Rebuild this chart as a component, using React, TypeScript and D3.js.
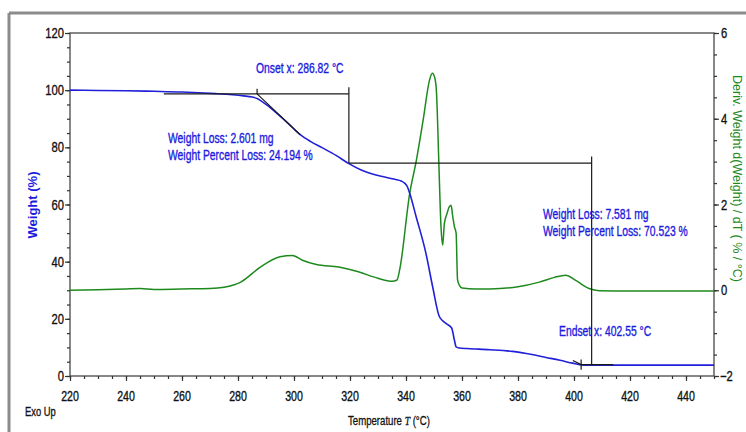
import React, { useEffect, useRef } from "react";
import * as d3 from "d3";

// Thermogravimetric weight curve (% of initial mass)
const tgaTemp = [220, 230, 240, 250, 260, 266, 272, 278, 282, 285, 287, 290, 294, 298, 302, 306, 310, 315, 319.6, 324, 328, 332, 336, 338.3, 339.5, 340.5, 341.3, 343.6, 347.1, 349.5, 351.9, 353, 354.5, 356.3, 357.3, 357.9, 359, 362, 370, 378, 385, 390, 395, 399.5, 402.5, 406, 420, 450];
const tgaWeight = [100, 99.9, 99.8, 99.6, 99.35, 99.1, 98.8, 98.4, 98.0, 97.6, 97.0, 95.0, 91.8, 88.3, 84.6, 82.0, 79.9, 77.2, 74.3, 72.1, 70.7, 69.7, 68.8, 68.2, 67.5, 66.2, 64.0, 55.8, 43.0, 31.3, 20.8, 19.4, 18.2, 16.8, 12.5, 10.2, 9.8, 9.6, 9.2, 8.6, 7.5, 6.5, 5.5, 4.5, 3.9, 3.8, 3.8, 3.8];

// Derivative weight curve (% / °C)
const dtgTemp = [220, 230, 240, 245, 250, 260, 270, 275, 281, 288, 295, 299.5, 303, 308, 316, 323, 330, 335, 336.8, 337.8, 341.3, 343.7, 346.1, 348.4, 349.4, 350.3, 350.9, 351.7, 352.5, 353.1, 353.7, 354.6, 355.5, 356.1, 356.7, 357.3, 357.9, 358.4, 359.2, 360, 365, 370, 380, 387.6, 393, 397, 400.6, 405.4, 409, 420, 450];
const dtgValue = [0, 0.01, 0.03, 0.04, 0.02, 0.03, 0.04, 0.07, 0.19, 0.54, 0.78, 0.81, 0.7, 0.6, 0.54, 0.43, 0.28, 0.21, 0.24, 0.5, 2.25, 3.03, 3.96, 4.9, 5.06, 4.95, 4.6, 3.03, 1.48, 1.05, 1.56, 1.78, 1.95, 1.98, 1.72, 1.48, 1.33, 0.25, 0.1, 0.05, 0.03, 0.03, 0.08, 0.19, 0.3, 0.35, 0.23, 0.04, -0.01, -0.02, -0.02];

// Step analysis results
const onsetTemp = 286.82;
const endsetTemp = 402.55;
const step1Loss = 24.194;
const step2Loss = 70.523;
const step1Mass = 2.601;
const step2Mass = 7.581;
const midLevel = 74.5;
const step1End = 319.6;
const step2End = 406.3;
const baselineStart = 253.5;
const endLineEnd = 414;

const xTicks = [220, 240, 260, 280, 300, 320, 340, 360, 380, 400, 420, 440];
const yLeftTicks = [0, 20, 40, 60, 80, 100, 120];
const yRightTicks = [-2, 0, 2, 4, 6];

const W = 746;
const H = 432;
const BLUE = "#2020d8";
const TEXT_BLUE = "#1c1ce0";
const GREEN = "#1e8a1e";
const SANS = "'Liberation Sans', Arial, sans-serif";

type NTProps = {
  x: number;
  y: number;
  size?: number;
  squeeze?: number;
  anchor?: "start" | "middle" | "end";
  fill?: string;
  children: React.ReactNode;
};

// Condensed label: regular sans squeezed horizontally, lightly stroked for weight
function NarrowText({ x, y, size = 14, squeeze = 0.74, anchor = "start", fill = "#111", children }: NTProps) {
  return (
    <text
      transform={`translate(${x},${y}) scale(${squeeze},1)`}
      textAnchor={anchor}
      fontFamily={SANS}
      fontSize={size}
      fill={fill}
      stroke={fill}
      strokeWidth={0.35}
    >
      {children}
    </text>
  );
}

export default function App() {
  const gx = useRef<SVGGElement>(null);
  const gyl = useRef<SVGGElement>(null);
  const gyr = useRef<SVGGElement>(null);

  const x = d3.scaleLinear().domain([220, 450]).range([70, 714]);
  const yL = d3.scaleLinear().domain([0, 120]).range([376, 33]);
  const yR = d3.scaleLinear().domain([-2, 6]).range([376, 33]);

  const tgaLine = d3
    .line<number>()
    .x((_, i) => x(tgaTemp[i]))
    .y((d) => yL(d))
    .curve(d3.curveMonotoneX);
  const dtgLine = d3
    .line<number>()
    .x((_, i) => x(dtgTemp[i]))
    .y((d) => yR(d))
    .curve(d3.curveMonotoneX);

  useEffect(() => {
    const style = (g: d3.Selection<SVGGElement, unknown, null, undefined>) => {
      g.select(".domain").remove();
      g.selectAll("line").attr("stroke", "#333").attr("stroke-width", 1.2);
    };
    const bx = d3.select(gx.current!);
    bx.selectAll("*").remove();
    bx.append("g")
      .call(d3.axisBottom(x).tickValues(d3.range(220, 451, 5)).tickSize(3).tickFormat(() => ""))
      .call(style);
    bx.append("g")
      .call(d3.axisBottom(x).tickValues(xTicks).tickSize(5).tickFormat(() => ""))
      .call(style);

    const bl = d3.select(gyl.current!);
    bl.selectAll("*").remove();
    bl.append("g")
      .call(d3.axisLeft(yL).tickValues(d3.range(0, 121, 5)).tickSize(3).tickFormat(() => ""))
      .call(style);
    bl.append("g")
      .call(d3.axisLeft(yL).tickValues(yLeftTicks).tickSize(5).tickFormat(() => ""))
      .call(style);

    const br = d3.select(gyr.current!);
    br.selectAll("*").remove();
    br.append("g")
      .call(d3.axisRight(yR).tickValues(d3.range(-2, 6.01, 0.5)).tickSize(3).tickFormat(() => ""))
      .call(style);
    br.append("g")
      .call(d3.axisRight(yR).tickValues(yRightTicks).tickSize(5).tickFormat(() => ""))
      .call(style);
  }, []);

  const topLevel = midLevel + step1Loss;
  const bottomLevel = midLevel - step2Loss;
  const stub = 2.3;
  const black = "#1a1a1a";

  return (
    <svg
      width={W}
      height={H}
      style={{ position: "absolute", left: 0, top: 0, background: "#fff" }}
    >
      {/* outer frame */}
      <line x1={9} y1={13} x2={W} y2={13} stroke="#8c8c8c" strokeWidth={3} />
      <line x1={9} y1={13} x2={9} y2={H} stroke="#8c8c8c" strokeWidth={3} />

      {/* plot border */}
      <rect x={70} y={33} width={644} height={343} fill="none" stroke="#555" strokeWidth={1.4} />

      <g ref={gx} transform="translate(0,376)" />
      <g ref={gyl} transform="translate(70,0)" />
      <g ref={gyr} transform="translate(714,0)" />

      {/* tick labels */}
      {xTicks.map((t) => (
        <NarrowText key={`x${t}`} x={x(t)} y={401} anchor="middle" squeeze={0.76}>
          {d3.format("d")(t)}
        </NarrowText>
      ))}
      {yLeftTicks.map((t) => (
        <NarrowText key={`l${t}`} x={64} y={yL(t) + 5} anchor="end" squeeze={0.8}>
          {d3.format("d")(t)}
        </NarrowText>
      ))}
      {yRightTicks.map((t) => (
        <NarrowText key={`r${t}`} x={t < 0 ? 720 : 721} y={yR(t) + 5} anchor="start" squeeze={0.8}>
          {t < 0 ? `\u2212${Math.abs(t)}` : d3.format("d")(t)}
        </NarrowText>
      ))}

      {/* derivative curve */}
      <path d={dtgLine(dtgValue) ?? ""} fill="none" stroke={GREEN} strokeWidth={1.5} />
      {/* weight curve */}
      <path d={tgaLine(tgaWeight) ?? ""} fill="none" stroke={BLUE} strokeWidth={1.6} />

      {/* step analysis construction */}
      <g stroke={black} strokeWidth={1.2} fill="none">
        <line x1={x(baselineStart)} x2={x(step1End)} y1={yL(topLevel)} y2={yL(topLevel)} />
        <line x1={x(step1End)} x2={x(step1End)} y1={yL(topLevel + stub)} y2={yL(midLevel)} />
        <line x1={x(step1End)} x2={x(step2End)} y1={yL(midLevel)} y2={yL(midLevel)} />
        <line x1={x(step2End)} x2={x(step2End)} y1={yL(midLevel + stub)} y2={yL(bottomLevel)} />
        <line x1={x(endsetTemp)} x2={x(endLineEnd)} y1={yL(bottomLevel)} y2={yL(bottomLevel)} />
        {/* onset tangent */}
        <line x1={x(onsetTemp)} y1={yL(topLevel)} x2={x(302.2)} y2={yL(84.4)} />
        <line x1={x(onsetTemp)} x2={x(onsetTemp)} y1={yL(topLevel + 1.8)} y2={yL(topLevel)} />
        {/* endset tangent */}
        <line x1={x(399.6)} y1={yL(5.4)} x2={x(endsetTemp)} y2={yL(bottomLevel)} />
        <line x1={x(endsetTemp)} x2={x(endsetTemp)} y1={yL(bottomLevel + 1.8)} y2={yL(bottomLevel - 1.8)} />
      </g>

      {/* annotations */}
      <NarrowText x={256} y={73} fill={TEXT_BLUE}>{`Onset x: ${onsetTemp.toFixed(2)} °C`}</NarrowText>
      <NarrowText x={168} y={143} fill={TEXT_BLUE}>{`Weight Loss: ${step1Mass.toFixed(3)} mg`}</NarrowText>
      <NarrowText x={168} y={160} fill={TEXT_BLUE}>{`Weight Percent Loss: ${step1Loss.toFixed(3)} %`}</NarrowText>
      <NarrowText x={543} y={219} fill={TEXT_BLUE}>{`Weight Loss: ${step2Mass.toFixed(3)} mg`}</NarrowText>
      <NarrowText x={543} y={236} fill={TEXT_BLUE}>{`Weight Percent Loss: ${step2Loss.toFixed(3)} %`}</NarrowText>
      <NarrowText x={559} y={336} fill={TEXT_BLUE}>{`Endset x: ${endsetTemp.toFixed(2)} °C`}</NarrowText>

      {/* axis titles */}
      <text
        transform="translate(37,205) rotate(-90)"
        textAnchor="middle"
        fontFamily={SANS}
        fontWeight="bold"
        fontSize={13}
        fill={TEXT_BLUE}
      >
        Weight (%)
      </text>
      <text
        transform="translate(733,75) rotate(90)"
        fontFamily={SANS}
        fontSize={12.5}
        fill={GREEN}
      >
        Deriv. Weight d(Weight) / dT ( % / °C)
      </text>
      <text
        transform="translate(348,425) scale(0.74,1)"
        fontFamily={SANS}
        fontSize={13}
        fill="#111"
        stroke="#111"
        strokeWidth={0.3}
      >
        Temperature{" "}
        <tspan fontFamily="'Liberation Serif', serif" fontStyle="italic">
          T
        </tspan>{" "}
        (°C)
      </text>
      <NarrowText x={25} y={416} size={13} squeeze={0.72}>
        Exo Up
      </NarrowText>
    </svg>
  );
}
